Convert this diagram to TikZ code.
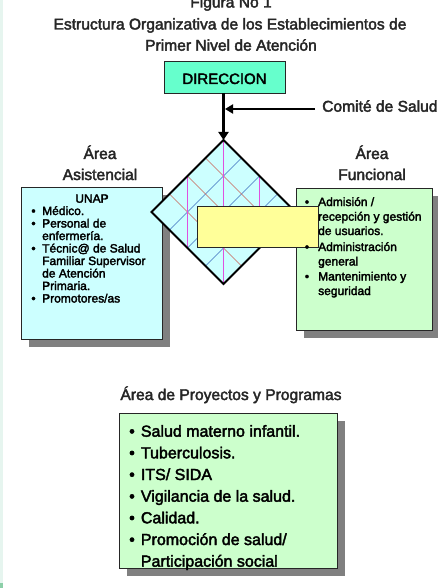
\documentclass[tikz,border=0pt]{standalone}
\usepackage{fontspec}
\setmainfont{Liberation Sans}
\newfontfamily\hv[FakeBold=2.5]{Liberation Sans}
\usetikzlibrary{arrows.meta,shadows,calc}
\definecolor{mint}{HTML}{66FFCC}
\definecolor{cyanlight}{HTML}{CCFFFF}
\definecolor{greenlight}{HTML}{CCFFCC}
\definecolor{yellowlight}{HTML}{FFFF99}
\definecolor{shadowgray}{HTML}{808080}
\definecolor{stripcol}{HTML}{E6F5EF}
\definecolor{cornergreen}{HTML}{8CCFA8}
\definecolor{hatchblue}{HTML}{4070C0}
\definecolor{hatchred}{HTML}{C86458}
\definecolor{hatchmag}{HTML}{E050E0}
\begin{document}
\begin{tikzpicture}[x=1pt,y=-1pt,
  lbl/.style={font=\hv\fontsize{15.6}{18}\selectfont, inner sep=0, anchor=base, text=black!85},
  sm/.style={font=\hv\fontsize{12}{14}\selectfont, inner sep=0, anchor=base west},
  smb/.style={font=\hv\fontsize{12}{14}\selectfont, inner sep=0, anchor=base},
  md/.style={font=\hv\fontsize{16}{18}\selectfont, inner sep=0, anchor=base west},
  mdb/.style={font=\hv\fontsize{16}{18}\selectfont, inner sep=0, anchor=base},
  boxst/.style={draw=black!85, line width=0.8pt, inner sep=0, anchor=north west,
    drop shadow={shadow xshift=8pt, shadow yshift=-8pt, fill=shadowgray, opacity=1}},
  hatch/.style={line width=0.6pt},
]
\useasboundingbox (0,0) rectangle (438,588);
\clip (0,0) rectangle (438,588);
\fill[white] (0,0) rectangle (438,588);
\fill[stripcol] (0,0) rectangle (3,588);
\fill[cornergreen] (0,583) rectangle (3,588);

% titles
\node[lbl] (t1) at (231,7.5) {Figura No 1};
\node[lbl] (t2) at (230,29.5) {Estructura Organizativa de los Establecimientos de};
\node[lbl] (t3) at (231,50.7) {Primer Nivel de Atención};

% direccion
\node[draw=black!85, line width=0.8pt, fill=mint, minimum width=121pt, minimum height=32pt,
  inner sep=0, text height=14pt, text depth=0pt, font=\hv\fontsize{15}{18}\selectfont] (dir) at (224.5,77) {DIRECCION};

% boxes
\node[boxst, fill=cyanlight, minimum width=141pt, minimum height=152pt] (lbox) at (21,187) {};
\node[boxst, fill=greenlight, minimum width=136pt, minimum height=142pt] (rbox) at (296,188) {};
\node[boxst, fill=greenlight, minimum width=218pt, minimum height=155pt] (bbox) at (119,413) {};

% diamond
\coordinate (dL) at (151.5,212);
\coordinate (dT) at (223.5,140);
\coordinate (dR) at (295.5,212);
\coordinate (dB) at (223.5,284);
\fill[cyanlight] (dL) -- (dT) -- (dR) -- (dB) -- cycle;
\begin{scope}
  \clip (dL) -- (dT) -- (dR) -- (dB) -- cycle;
  \foreach \f in {0.25,0.5,0.75} {
    \draw[hatch, hatchblue] ($(dL)+\f*(72,72)$) -- ($(dT)+\f*(72,72)$);
    \draw[hatch, hatchred] ($(dL)+\f*(72,-72)$) -- ($(dB)+\f*(72,-72)$);
  }
  \draw[hatch, hatchmag] (187.5,170) -- (187.5,254);
  \draw[hatch, hatchmag] (223.5,136) -- (223.5,288);
  \draw[hatch, hatchmag] (259.5,170) -- (259.5,254);
\end{scope}
\draw[line width=2pt, line join=miter] (dL) -- (dT) -- (dR) -- (dB) -- cycle;

% yellow rectangle
\node[draw=black!85, line width=0.8pt, fill=yellowlight, anchor=north west, inner sep=0,
  minimum width=121pt, minimum height=41pt] (ybox) at (197,206) {};

% connectors
\draw[line width=3pt, -{Triangle[width=10pt,length=8pt]}] (dir.south -| dT) -- (dT);
\coordinate (cs) at (315,109);
\coordinate (hit) at (225,109);
\draw[line width=2pt, -{Triangle[width=9pt,length=8pt]}] (cs) -- (hit);
\node[lbl, anchor=base west] (com) at (322,111.7) {Comité de Salud};

% headings
\node[lbl] (la1) at (100,159) {Área};
\node[lbl] (la2) at (100,180) {Asistencial};
\node[lbl] (ra1) at (372,159) {Área};
\node[lbl] (ra2) at (372,180) {Funcional};
\node[lbl] (ba) at (231,400) {Área de Proyectos y Programas};

% left box text
\node[smb] (unap) at (92,202.7) {UNAP};
\node[smb] (lb1) at (33.5,215) {•};
\node[sm] (l1) at (42,215) {Médico.};
\node[smb] (lb2) at (33.5,227.5) {•};
\node[sm] (l2) at (42,227.5) {Personal de};
\node[sm] (l3) at (42,240) {enfermería.};
\node[smb] (lb4) at (33.5,252.5) {•};
\node[sm] (l4) at (42,252.5) {Técnic@ de Salud};
\node[sm] (l5) at (42,265) {Familiar Supervisor};
\node[sm] (l6) at (42,277.5) {de Atención};
\node[sm] (l7) at (42,290) {Primaria.};
\node[smb] (lb8) at (33.5,302.5) {•};
\node[sm] (l8) at (42,302.5) {Promotores/as};

% right box text
\node[smb] (rb1) at (307,206) {•};
\node[sm] (r1) at (318,206) {Admisión /};
\node[sm] (r2) at (318,220.7) {recepción y gestión};
\node[sm] (r3) at (318,235) {de usuarios.};
\node[smb] (rb4) at (307,251) {•};
\node[sm] (r4) at (318,251) {Administración};
\node[sm] (r5) at (318,265.5) {general};
\node[smb] (rb6) at (307,280.5) {•};
\node[sm] (r6) at (318,280.5) {Mantenimiento y};
\node[sm] (r7) at (318,295) {seguridad};

% bottom box text
\node[mdb] (bb1) at (132,436.7) {•};
\node[md] (b1) at (140.7,436.7) {Salud materno infantil.};
\node[mdb] (bb2) at (132,458.3) {•};
\node[md] (b2) at (140.7,458.3) {Tuberculosis.};
\node[mdb] (bb3) at (132,480) {•};
\node[md] (b3) at (140.7,480) {ITS/ SIDA};
\node[mdb] (bb4) at (132,501.7) {•};
\node[md] (b4) at (140.7,501.7) {Vigilancia de la salud.};
\node[mdb] (bb5) at (132,523.3) {•};
\node[md] (b5) at (140.7,523.3) {Calidad.};
\node[mdb] (bb6) at (132,545) {•};
\node[md] (b6) at (140.7,545) {Promoción de salud/};
\node[md] (b7) at (140.7,566.7) {Participación social};
\end{tikzpicture}
\end{document}
